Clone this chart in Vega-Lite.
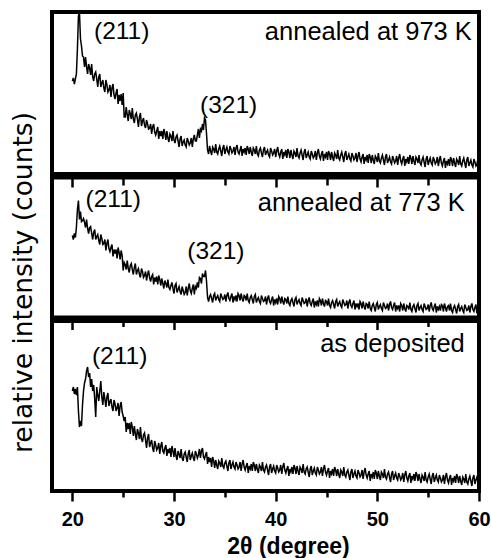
{
"$schema": "https://vega.github.io/schema/vega-lite/v6.json",
"padding": {"left": 7, "top": 10, "right": 0, "bottom": 0},
"autosize": {"type": "pad"},
"bounds": "flush",
"spacing": 3.5,
"config": {
  "font": "Liberation Sans",
  "view": {"stroke": "black", "strokeWidth": 4},
  "axis": {"grid": false, "domain": false, "tickColor": "black", "tickWidth": 2.5, "labelColor": "black", "titleColor": "black"}
},
"datasets": {
"s973": [{"x":20.0,"y":93},{"x":20.1,"y":96},{"x":20.2,"y":90},{"x":20.3,"y":95},{"x":20.4,"y":100},{"x":20.5,"y":125},{"x":20.6,"y":158},{"x":20.7,"y":162},{"x":20.8,"y":135},{"x":20.9,"y":128},{"x":21.0,"y":118},
{"x":21.1,"y":117},{"x":21.2,"y":107},{"x":21.3,"y":117},{"x":21.4,"y":107},{"x":21.5,"y":100},{"x":21.6,"y":110},{"x":21.7,"y":106},{"x":21.8,"y":99},{"x":21.9,"y":110},{"x":22.0,"y":97},
{"x":22.1,"y":93},{"x":22.2,"y":100},{"x":22.3,"y":102},{"x":22.4,"y":95},{"x":22.5,"y":87},{"x":22.6,"y":97},{"x":22.7,"y":100},{"x":22.8,"y":87},{"x":22.9,"y":91},{"x":23.0,"y":94},
{"x":23.1,"y":86},{"x":23.2,"y":82},{"x":23.3,"y":94},{"x":23.4,"y":89},{"x":23.5,"y":82},{"x":23.6,"y":84},{"x":23.7,"y":89},{"x":23.8,"y":77},{"x":23.9,"y":86},{"x":24.0,"y":90},
{"x":24.1,"y":79},{"x":24.2,"y":75},{"x":24.3,"y":81},{"x":24.4,"y":85},{"x":24.5,"y":70},{"x":24.6,"y":79},{"x":24.7,"y":73},{"x":24.8,"y":80},{"x":24.9,"y":69},{"x":25.0,"y":81},
{"x":25.1,"y":57},{"x":25.2,"y":57},{"x":25.3,"y":67},{"x":25.4,"y":59},{"x":25.5,"y":53},{"x":25.6,"y":64},{"x":25.7,"y":60},{"x":25.8,"y":55},{"x":25.9,"y":66},{"x":26.0,"y":55},
{"x":26.1,"y":51},{"x":26.2,"y":59},{"x":26.3,"y":61},{"x":26.4,"y":55},{"x":26.5,"y":47},{"x":26.6,"y":57},{"x":26.7,"y":61},{"x":26.8,"y":48},{"x":26.9,"y":53},{"x":27.0,"y":56},
{"x":27.1,"y":49},{"x":27.2,"y":46},{"x":27.3,"y":54},{"x":27.4,"y":50},{"x":27.5,"y":45},{"x":27.6,"y":46},{"x":27.7,"y":50},{"x":27.8,"y":40},{"x":27.9,"y":47},{"x":28.0,"y":50},
{"x":28.1,"y":42},{"x":28.2,"y":39},{"x":28.3,"y":43},{"x":28.4,"y":47},{"x":28.5,"y":35},{"x":28.6,"y":43},{"x":28.7,"y":38},{"x":28.8,"y":43},{"x":28.9,"y":35},{"x":29.0,"y":45},
{"x":29.1,"y":41},{"x":29.2,"y":34},{"x":29.3,"y":43},{"x":29.4,"y":36},{"x":29.5,"y":32},{"x":29.6,"y":40},{"x":29.7,"y":38},{"x":29.8,"y":33},{"x":29.9,"y":43},{"x":30.0,"y":34},
{"x":30.1,"y":31},{"x":30.2,"y":37},{"x":30.3,"y":39},{"x":30.4,"y":33},{"x":30.5,"y":27},{"x":30.6,"y":35},{"x":30.7,"y":38},{"x":30.8,"y":28},{"x":30.9,"y":32},{"x":31.0,"y":34},
{"x":31.1,"y":29},{"x":31.2,"y":27},{"x":31.3,"y":36},{"x":31.4,"y":33},{"x":31.5,"y":29},{"x":31.6,"y":31},{"x":31.7,"y":36},{"x":31.8,"y":27},{"x":31.9,"y":35},{"x":32.0,"y":39},
{"x":32.1,"y":33},{"x":32.2,"y":33},{"x":32.3,"y":39},{"x":32.4,"y":45},{"x":32.5,"y":36},{"x":32.6,"y":45},{"x":32.7,"y":43},{"x":32.8,"y":50},{"x":32.9,"y":44},{"x":33.0,"y":56},
{"x":33.1,"y":54},{"x":33.2,"y":40},{"x":33.3,"y":24},{"x":33.4,"y":20},{"x":33.5,"y":28},{"x":33.6,"y":23},{"x":33.7,"y":19},{"x":33.8,"y":27},{"x":33.9,"y":25},{"x":34.0,"y":21},
{"x":34.1,"y":30},{"x":34.2,"y":22},{"x":34.3,"y":20},{"x":34.4,"y":25},{"x":34.5,"y":28},{"x":34.6,"y":23},{"x":34.7,"y":18},{"x":34.8,"y":26},{"x":34.9,"y":29},{"x":35.0,"y":20},
{"x":35.1,"y":24},{"x":35.2,"y":27},{"x":35.3,"y":22},{"x":35.4,"y":20},{"x":35.5,"y":28},{"x":35.6,"y":25},{"x":35.7,"y":21},{"x":35.8,"y":23},{"x":35.9,"y":27},{"x":36.0,"y":19},
{"x":36.1,"y":26},{"x":36.2,"y":29},{"x":36.3,"y":22},{"x":36.4,"y":20},{"x":36.5,"y":24},{"x":36.6,"y":28},{"x":36.7,"y":18},{"x":36.8,"y":25},{"x":36.9,"y":22},{"x":37.0,"y":26},
{"x":37.1,"y":19},{"x":37.2,"y":28},{"x":37.3,"y":25},{"x":37.4,"y":20},{"x":37.5,"y":27},{"x":37.6,"y":22},{"x":37.7,"y":18},{"x":37.8,"y":26},{"x":37.9,"y":24},{"x":38.0,"y":20},
{"x":38.1,"y":28},{"x":38.2,"y":20},{"x":38.3,"y":18},{"x":38.4,"y":24},{"x":38.5,"y":26},{"x":38.6,"y":21},{"x":38.7,"y":17},{"x":38.8,"y":24},{"x":38.9,"y":27},{"x":39.0,"y":19},
{"x":39.1,"y":22},{"x":39.2,"y":24},{"x":39.3,"y":19},{"x":39.4,"y":17},{"x":39.5,"y":26},{"x":39.6,"y":23},{"x":39.7,"y":19},{"x":39.8,"y":21},{"x":39.9,"y":25},{"x":40.0,"y":17},
{"x":40.1,"y":23},{"x":40.2,"y":27},{"x":40.3,"y":20},{"x":40.4,"y":17},{"x":40.5,"y":22},{"x":40.6,"y":25},{"x":40.7,"y":15},{"x":40.8,"y":22},{"x":40.9,"y":19},{"x":41.0,"y":24},
{"x":41.1,"y":16},{"x":41.2,"y":25},{"x":41.3,"y":22},{"x":41.4,"y":16},{"x":41.5,"y":24},{"x":41.6,"y":19},{"x":41.7,"y":15},{"x":41.8,"y":23},{"x":41.9,"y":21},{"x":42.0,"y":17},
{"x":42.1,"y":26},{"x":42.2,"y":18},{"x":42.3,"y":16},{"x":42.4,"y":21},{"x":42.5,"y":24},{"x":42.6,"y":19},{"x":42.7,"y":14},{"x":42.8,"y":22},{"x":42.9,"y":25},{"x":43.0,"y":16},
{"x":43.1,"y":19},{"x":43.2,"y":22},{"x":43.3,"y":17},{"x":43.4,"y":15},{"x":43.5,"y":23},{"x":43.6,"y":20},{"x":43.7,"y":16},{"x":43.8,"y":18},{"x":43.9,"y":23},{"x":44.0,"y":14},
{"x":44.1,"y":21},{"x":44.2,"y":25},{"x":44.3,"y":18},{"x":44.4,"y":15},{"x":44.5,"y":20},{"x":44.6,"y":23},{"x":44.7,"y":13},{"x":44.8,"y":20},{"x":44.9,"y":17},{"x":45.0,"y":22},
{"x":45.1,"y":14},{"x":45.2,"y":23},{"x":45.3,"y":20},{"x":45.4,"y":14},{"x":45.5,"y":22},{"x":45.6,"y":17},{"x":45.7,"y":13},{"x":45.8,"y":21},{"x":45.9,"y":19},{"x":46.0,"y":15},
{"x":46.1,"y":24},{"x":46.2,"y":16},{"x":46.3,"y":14},{"x":46.4,"y":19},{"x":46.5,"y":22},{"x":46.6,"y":17},{"x":46.7,"y":12},{"x":46.8,"y":20},{"x":46.9,"y":23},{"x":47.0,"y":14},
{"x":47.1,"y":17},{"x":47.2,"y":20},{"x":47.3,"y":15},{"x":47.4,"y":13},{"x":47.5,"y":21},{"x":47.6,"y":18},{"x":47.7,"y":14},{"x":47.8,"y":16},{"x":47.9,"y":21},{"x":48.0,"y":12},
{"x":48.1,"y":18},{"x":48.2,"y":22},{"x":48.3,"y":15},{"x":48.4,"y":12},{"x":48.5,"y":17},{"x":48.6,"y":20},{"x":48.7,"y":10},{"x":48.8,"y":17},{"x":48.9,"y":14},{"x":49.0,"y":19},
{"x":49.1,"y":11},{"x":49.2,"y":20},{"x":49.3,"y":17},{"x":49.4,"y":11},{"x":49.5,"y":19},{"x":49.6,"y":14},{"x":49.7,"y":10},{"x":49.8,"y":18},{"x":49.9,"y":16},{"x":50.0,"y":12},
{"x":50.1,"y":21},{"x":50.2,"y":13},{"x":50.3,"y":11},{"x":50.4,"y":16},{"x":50.5,"y":19},{"x":50.6,"y":14},{"x":50.7,"y":9},{"x":50.8,"y":17},{"x":50.9,"y":20},{"x":51.0,"y":11},
{"x":51.1,"y":14},{"x":51.2,"y":17},{"x":51.3,"y":12},{"x":51.4,"y":10},{"x":51.5,"y":18},{"x":51.6,"y":15},{"x":51.7,"y":11},{"x":51.8,"y":13},{"x":51.9,"y":18},{"x":52.0,"y":9},
{"x":52.1,"y":16},{"x":52.2,"y":20},{"x":52.3,"y":13},{"x":52.4,"y":10},{"x":52.5,"y":15},{"x":52.6,"y":18},{"x":52.7,"y":8},{"x":52.8,"y":15},{"x":52.9,"y":12},{"x":53.0,"y":17},
{"x":53.1,"y":10},{"x":53.2,"y":19},{"x":53.3,"y":16},{"x":53.4,"y":10},{"x":53.5,"y":18},{"x":53.6,"y":13},{"x":53.7,"y":9},{"x":53.8,"y":17},{"x":53.9,"y":15},{"x":54.0,"y":11},
{"x":54.1,"y":19},{"x":54.2,"y":11},{"x":54.3,"y":9},{"x":54.4,"y":14},{"x":54.5,"y":17},{"x":54.6,"y":12},{"x":54.7,"y":7},{"x":54.8,"y":15},{"x":54.9,"y":18},{"x":55.0,"y":9},
{"x":55.1,"y":13},{"x":55.2,"y":16},{"x":55.3,"y":11},{"x":55.4,"y":9},{"x":55.5,"y":17},{"x":55.6,"y":14},{"x":55.7,"y":10},{"x":55.8,"y":12},{"x":55.9,"y":17},{"x":56.0,"y":8},
{"x":56.1,"y":14},{"x":56.2,"y":18},{"x":56.3,"y":11},{"x":56.4,"y":8},{"x":56.5,"y":13},{"x":56.6,"y":16},{"x":56.7,"y":6},{"x":56.8,"y":13},{"x":56.9,"y":10},{"x":57.0,"y":15},
{"x":57.1,"y":8},{"x":57.2,"y":17},{"x":57.3,"y":14},{"x":57.4,"y":8},{"x":57.5,"y":16},{"x":57.6,"y":11},{"x":57.7,"y":7},{"x":57.8,"y":15},{"x":57.9,"y":13},{"x":58.0,"y":9},
{"x":58.1,"y":18},{"x":58.2,"y":10},{"x":58.3,"y":8},{"x":58.4,"y":13},{"x":58.5,"y":16},{"x":58.6,"y":11},{"x":58.7,"y":6},{"x":58.8,"y":14},{"x":58.9,"y":17},{"x":59.0,"y":8},
{"x":59.1,"y":11},{"x":59.2,"y":14},{"x":59.3,"y":9},{"x":59.4,"y":7},{"x":59.5,"y":15},{"x":59.6,"y":12},{"x":59.7,"y":8},{"x":59.8,"y":10},{"x":59.9,"y":15},{"x":60.0,"y":10}],
"s773": [{"x":20.0,"y":82},{"x":20.1,"y":78},{"x":20.2,"y":84},{"x":20.3,"y":80},{"x":20.4,"y":90},{"x":20.5,"y":108},{"x":20.6,"y":117},{"x":20.7,"y":98},{"x":20.8,"y":106},{"x":20.9,"y":96},{"x":21.0,"y":97},
{"x":21.1,"y":99},{"x":21.2,"y":95},{"x":21.3,"y":90},{"x":21.4,"y":98},{"x":21.5,"y":89},{"x":21.6,"y":84},{"x":21.7,"y":90},{"x":21.8,"y":91},{"x":21.9,"y":84},{"x":22.0,"y":78},
{"x":22.1,"y":85},{"x":22.2,"y":88},{"x":22.3,"y":78},{"x":22.4,"y":81},{"x":22.5,"y":83},{"x":22.6,"y":77},{"x":22.7,"y":73},{"x":22.8,"y":83},{"x":22.9,"y":79},{"x":23.0,"y":73},
{"x":23.1,"y":74},{"x":23.2,"y":78},{"x":23.3,"y":67},{"x":23.4,"y":74},{"x":23.5,"y":78},{"x":23.6,"y":69},{"x":23.7,"y":66},{"x":23.8,"y":70},{"x":23.9,"y":73},{"x":24.0,"y":61},
{"x":24.1,"y":68},{"x":24.2,"y":64},{"x":24.3,"y":68},{"x":24.4,"y":59},{"x":24.5,"y":70},{"x":24.6,"y":65},{"x":24.7,"y":58},{"x":24.8,"y":67},{"x":24.9,"y":62},{"x":25.0,"y":47},
{"x":25.1,"y":55},{"x":25.2,"y":53},{"x":25.3,"y":48},{"x":25.4,"y":57},{"x":25.5,"y":49},{"x":25.6,"y":45},{"x":25.7,"y":52},{"x":25.8,"y":54},{"x":25.9,"y":48},{"x":26.0,"y":43},
{"x":26.1,"y":50},{"x":26.2,"y":54},{"x":26.3,"y":43},{"x":26.4,"y":47},{"x":26.5,"y":49},{"x":26.6,"y":43},{"x":26.7,"y":40},{"x":26.8,"y":49},{"x":26.9,"y":46},{"x":27.0,"y":40},
{"x":27.1,"y":42},{"x":27.2,"y":46},{"x":27.3,"y":37},{"x":27.4,"y":43},{"x":27.5,"y":47},{"x":27.6,"y":40},{"x":27.7,"y":36},{"x":27.8,"y":41},{"x":27.9,"y":43},{"x":28.0,"y":33},
{"x":28.1,"y":40},{"x":28.2,"y":36},{"x":28.3,"y":41},{"x":28.4,"y":33},{"x":28.5,"y":42},{"x":28.6,"y":38},{"x":28.7,"y":32},{"x":28.8,"y":39},{"x":28.9,"y":34},{"x":29.0,"y":29},
{"x":29.1,"y":37},{"x":29.2,"y":34},{"x":29.3,"y":30},{"x":29.4,"y":38},{"x":29.5,"y":30},{"x":29.6,"y":28},{"x":29.7,"y":32},{"x":29.8,"y":35},{"x":29.9,"y":29},{"x":30.0,"y":24},
{"x":30.1,"y":32},{"x":30.2,"y":34},{"x":30.3,"y":25},{"x":30.4,"y":28},{"x":30.5,"y":31},{"x":30.6,"y":26},{"x":30.7,"y":23},{"x":30.8,"y":31},{"x":30.9,"y":27},{"x":31.0,"y":23},
{"x":31.1,"y":25},{"x":31.2,"y":31},{"x":31.3,"y":22},{"x":31.4,"y":29},{"x":31.5,"y":34},{"x":31.6,"y":27},{"x":31.7,"y":24},{"x":31.8,"y":29},{"x":31.9,"y":33},{"x":32.0,"y":23},
{"x":32.1,"y":31},{"x":32.2,"y":29},{"x":32.3,"y":35},{"x":32.4,"y":30},{"x":32.5,"y":40},{"x":32.6,"y":39},{"x":32.7,"y":34},{"x":32.8,"y":44},{"x":32.9,"y":41},{"x":33.0,"y":41},
{"x":33.1,"y":47},{"x":33.2,"y":36},{"x":33.3,"y":20},{"x":33.4,"y":16},{"x":33.5,"y":21},{"x":33.6,"y":23},{"x":33.7,"y":19},{"x":33.8,"y":15},{"x":33.9,"y":22},{"x":34.0,"y":24},
{"x":34.1,"y":17},{"x":34.2,"y":20},{"x":34.3,"y":22},{"x":34.4,"y":18},{"x":34.5,"y":16},{"x":34.6,"y":24},{"x":34.7,"y":21},{"x":34.8,"y":18},{"x":34.9,"y":19},{"x":35.0,"y":23},
{"x":35.1,"y":16},{"x":35.2,"y":22},{"x":35.3,"y":25},{"x":35.4,"y":19},{"x":35.5,"y":17},{"x":35.6,"y":21},{"x":35.7,"y":24},{"x":35.8,"y":15},{"x":35.9,"y":21},{"x":36.0,"y":18},
{"x":36.1,"y":22},{"x":36.2,"y":16},{"x":36.3,"y":24},{"x":36.4,"y":22},{"x":36.5,"y":17},{"x":36.6,"y":24},{"x":36.7,"y":19},{"x":36.8,"y":16},{"x":36.9,"y":22},{"x":37.0,"y":21},
{"x":37.1,"y":17},{"x":37.2,"y":24},{"x":37.3,"y":17},{"x":37.4,"y":15},{"x":37.5,"y":20},{"x":37.6,"y":22},{"x":37.7,"y":18},{"x":37.8,"y":14},{"x":37.9,"y":21},{"x":38.0,"y":23},
{"x":38.1,"y":15},{"x":38.2,"y":18},{"x":38.3,"y":20},{"x":38.4,"y":16},{"x":38.5,"y":14},{"x":38.6,"y":22},{"x":38.7,"y":19},{"x":38.8,"y":16},{"x":38.9,"y":17},{"x":39.0,"y":21},
{"x":39.1,"y":13},{"x":39.2,"y":19},{"x":39.3,"y":22},{"x":39.4,"y":16},{"x":39.5,"y":14},{"x":39.6,"y":18},{"x":39.7,"y":21},{"x":39.8,"y":12},{"x":39.9,"y":18},{"x":40.0,"y":15},
{"x":40.1,"y":19},{"x":40.2,"y":13},{"x":40.3,"y":21},{"x":40.4,"y":19},{"x":40.5,"y":14},{"x":40.6,"y":21},{"x":40.7,"y":16},{"x":40.8,"y":13},{"x":40.9,"y":19},{"x":41.0,"y":18},
{"x":41.1,"y":14},{"x":41.2,"y":21},{"x":41.3,"y":14},{"x":41.4,"y":12},{"x":41.5,"y":17},{"x":41.6,"y":19},{"x":41.7,"y":15},{"x":41.8,"y":11},{"x":41.9,"y":18},{"x":42.0,"y":20},
{"x":42.1,"y":13},{"x":42.2,"y":16},{"x":42.3,"y":18},{"x":42.4,"y":14},{"x":42.5,"y":12},{"x":42.6,"y":20},{"x":42.7,"y":17},{"x":42.8,"y":14},{"x":42.9,"y":15},{"x":43.0,"y":19},
{"x":43.1,"y":11},{"x":43.2,"y":17},{"x":43.3,"y":20},{"x":43.4,"y":14},{"x":43.5,"y":12},{"x":43.6,"y":16},{"x":43.7,"y":19},{"x":43.8,"y":10},{"x":43.9,"y":16},{"x":44.0,"y":13},
{"x":44.1,"y":17},{"x":44.2,"y":11},{"x":44.3,"y":19},{"x":44.4,"y":17},{"x":44.5,"y":12},{"x":44.6,"y":19},{"x":44.7,"y":14},{"x":44.8,"y":11},{"x":44.9,"y":17},{"x":45.0,"y":16},
{"x":45.1,"y":12},{"x":45.2,"y":19},{"x":45.3,"y":12},{"x":45.4,"y":10},{"x":45.5,"y":15},{"x":45.6,"y":17},{"x":45.7,"y":13},{"x":45.8,"y":9},{"x":45.9,"y":16},{"x":46.0,"y":18},
{"x":46.1,"y":11},{"x":46.2,"y":14},{"x":46.3,"y":16},{"x":46.4,"y":12},{"x":46.5,"y":10},{"x":46.6,"y":18},{"x":46.7,"y":15},{"x":46.8,"y":12},{"x":46.9,"y":13},{"x":47.0,"y":17},
{"x":47.1,"y":9},{"x":47.2,"y":15},{"x":47.3,"y":18},{"x":47.4,"y":12},{"x":47.5,"y":10},{"x":47.6,"y":14},{"x":47.7,"y":17},{"x":47.8,"y":8},{"x":47.9,"y":14},{"x":48.0,"y":11},
{"x":48.1,"y":14},{"x":48.2,"y":8},{"x":48.3,"y":16},{"x":48.4,"y":14},{"x":48.5,"y":9},{"x":48.6,"y":16},{"x":48.7,"y":11},{"x":48.8,"y":8},{"x":48.9,"y":14},{"x":49.0,"y":13},
{"x":49.1,"y":9},{"x":49.2,"y":16},{"x":49.3,"y":9},{"x":49.4,"y":7},{"x":49.5,"y":12},{"x":49.6,"y":14},{"x":49.7,"y":10},{"x":49.8,"y":6},{"x":49.9,"y":13},{"x":50.0,"y":15},
{"x":50.1,"y":8},{"x":50.2,"y":11},{"x":50.3,"y":13},{"x":50.4,"y":9},{"x":50.5,"y":7},{"x":50.6,"y":15},{"x":50.7,"y":12},{"x":50.8,"y":9},{"x":50.9,"y":10},{"x":51.0,"y":14},
{"x":51.1,"y":7},{"x":51.2,"y":13},{"x":51.3,"y":16},{"x":51.4,"y":10},{"x":51.5,"y":8},{"x":51.6,"y":12},{"x":51.7,"y":15},{"x":51.8,"y":6},{"x":51.9,"y":12},{"x":52.0,"y":9},
{"x":52.1,"y":12},{"x":52.2,"y":6},{"x":52.3,"y":14},{"x":52.4,"y":12},{"x":52.5,"y":7},{"x":52.6,"y":14},{"x":52.7,"y":9},{"x":52.8,"y":6},{"x":52.9,"y":12},{"x":53.0,"y":11},
{"x":53.1,"y":8},{"x":53.2,"y":15},{"x":53.3,"y":8},{"x":53.4,"y":6},{"x":53.5,"y":11},{"x":53.6,"y":13},{"x":53.7,"y":9},{"x":53.8,"y":5},{"x":53.9,"y":12},{"x":54.0,"y":14},
{"x":54.1,"y":7},{"x":54.2,"y":10},{"x":54.3,"y":12},{"x":54.4,"y":8},{"x":54.5,"y":6},{"x":54.6,"y":14},{"x":54.7,"y":11},{"x":54.8,"y":8},{"x":54.9,"y":9},{"x":55.0,"y":13},
{"x":55.1,"y":6},{"x":55.2,"y":12},{"x":55.3,"y":15},{"x":55.4,"y":9},{"x":55.5,"y":7},{"x":55.6,"y":11},{"x":55.7,"y":14},{"x":55.8,"y":5},{"x":55.9,"y":11},{"x":56.0,"y":8},
{"x":56.1,"y":11},{"x":56.2,"y":7},{"x":56.3,"y":13},{"x":56.4,"y":12},{"x":56.5,"y":6},{"x":56.6,"y":14},{"x":56.7,"y":10},{"x":56.8,"y":6},{"x":56.9,"y":11},{"x":57.0,"y":12},
{"x":57.1,"y":7},{"x":57.2,"y":14},{"x":57.3,"y":7},{"x":57.4,"y":5},{"x":57.5,"y":10},{"x":57.6,"y":12},{"x":57.7,"y":8},{"x":57.8,"y":4},{"x":57.9,"y":11},{"x":58.0,"y":13},
{"x":58.1,"y":6},{"x":58.2,"y":9},{"x":58.3,"y":11},{"x":58.4,"y":7},{"x":58.5,"y":5},{"x":58.6,"y":13},{"x":58.7,"y":10},{"x":58.8,"y":7},{"x":58.9,"y":8},{"x":59.0,"y":12},
{"x":59.1,"y":5},{"x":59.2,"y":11},{"x":59.3,"y":14},{"x":59.4,"y":8},{"x":59.5,"y":6},{"x":59.6,"y":10},{"x":59.7,"y":13},{"x":59.8,"y":4},{"x":59.9,"y":10},{"x":60.0,"y":9}],
"dep": [{"x":20.0,"y":100},{"x":20.1,"y":104},{"x":20.2,"y":97},{"x":20.3,"y":102},{"x":20.4,"y":96},{"x":20.5,"y":104},{"x":20.6,"y":80},{"x":20.7,"y":64},{"x":20.8,"y":70},{"x":20.9,"y":65},{"x":21.0,"y":86},
{"x":21.1,"y":100},{"x":21.2,"y":108},{"x":21.3,"y":112},{"x":21.4,"y":120},{"x":21.5,"y":124},{"x":21.6,"y":114},{"x":21.7,"y":118},{"x":21.8,"y":104},{"x":21.9,"y":112},{"x":22.0,"y":100},
{"x":22.1,"y":106},{"x":22.2,"y":92},{"x":22.3,"y":74},{"x":22.4,"y":104},{"x":22.5,"y":96},{"x":22.6,"y":90},{"x":22.7,"y":100},{"x":22.8,"y":110},{"x":22.9,"y":94},{"x":23.0,"y":86},
{"x":23.1,"y":99},{"x":23.2,"y":92},{"x":23.3,"y":84},{"x":23.4,"y":94},{"x":23.5,"y":98},{"x":23.6,"y":85},{"x":23.7,"y":89},{"x":23.8,"y":92},{"x":23.9,"y":84},{"x":24.0,"y":80},
{"x":24.1,"y":91},{"x":24.2,"y":87},{"x":24.3,"y":80},{"x":24.4,"y":83},{"x":24.5,"y":88},{"x":24.6,"y":75},{"x":24.7,"y":85},{"x":24.8,"y":89},{"x":24.9,"y":79},{"x":25.0,"y":75},
{"x":25.1,"y":70},{"x":25.2,"y":74},{"x":25.3,"y":59},{"x":25.4,"y":68},{"x":25.5,"y":62},{"x":25.6,"y":68},{"x":25.7,"y":57},{"x":25.8,"y":69},{"x":25.9,"y":64},{"x":26.0,"y":55},
{"x":26.1,"y":65},{"x":26.2,"y":57},{"x":26.3,"y":51},{"x":26.4,"y":62},{"x":26.5,"y":58},{"x":26.6,"y":52},{"x":26.7,"y":64},{"x":26.8,"y":52},{"x":26.9,"y":49},{"x":27.0,"y":56},
{"x":27.1,"y":58},{"x":27.2,"y":51},{"x":27.3,"y":43},{"x":27.4,"y":53},{"x":27.5,"y":57},{"x":27.6,"y":44},{"x":27.7,"y":48},{"x":27.8,"y":51},{"x":27.9,"y":43},{"x":28.0,"y":39},
{"x":28.1,"y":50},{"x":28.2,"y":46},{"x":28.3,"y":41},{"x":28.4,"y":43},{"x":28.5,"y":48},{"x":28.6,"y":37},{"x":28.7,"y":45},{"x":28.8,"y":49},{"x":28.9,"y":40},{"x":29.0,"y":38},
{"x":29.1,"y":43},{"x":29.2,"y":46},{"x":29.3,"y":35},{"x":29.4,"y":42},{"x":29.5,"y":38},{"x":29.6,"y":43},{"x":29.7,"y":34},{"x":29.8,"y":45},{"x":29.9,"y":40},{"x":30.0,"y":34},
{"x":30.1,"y":43},{"x":30.2,"y":35},{"x":30.3,"y":31},{"x":30.4,"y":40},{"x":30.5,"y":37},{"x":30.6,"y":33},{"x":30.7,"y":42},{"x":30.8,"y":33},{"x":30.9,"y":30},{"x":31.0,"y":37},
{"x":31.1,"y":39},{"x":31.2,"y":34},{"x":31.3,"y":29},{"x":31.4,"y":37},{"x":31.5,"y":41},{"x":31.6,"y":31},{"x":31.7,"y":35},{"x":31.8,"y":38},{"x":31.9,"y":33},{"x":32.0,"y":30},
{"x":32.1,"y":40},{"x":32.2,"y":37},{"x":32.3,"y":33},{"x":32.4,"y":36},{"x":32.5,"y":42},{"x":32.6,"y":33},{"x":32.7,"y":40},{"x":32.8,"y":43},{"x":32.9,"y":34},{"x":33.0,"y":32},
{"x":33.1,"y":36},{"x":33.2,"y":39},{"x":33.3,"y":27},{"x":33.4,"y":34},{"x":33.5,"y":29},{"x":33.6,"y":33},{"x":33.7,"y":24},{"x":33.8,"y":34},{"x":33.9,"y":30},{"x":34.0,"y":23},
{"x":34.1,"y":31},{"x":34.2,"y":26},{"x":34.3,"y":22},{"x":34.4,"y":30},{"x":34.5,"y":28},{"x":34.6,"y":24},{"x":34.7,"y":33},{"x":34.8,"y":25},{"x":34.9,"y":23},{"x":35.0,"y":28},
{"x":35.1,"y":30},{"x":35.2,"y":25},{"x":35.3,"y":20},{"x":35.4,"y":28},{"x":35.5,"y":31},{"x":35.6,"y":22},{"x":35.7,"y":26},{"x":35.8,"y":29},{"x":35.9,"y":24},{"x":36.0,"y":22},
{"x":36.1,"y":29},{"x":36.2,"y":26},{"x":36.3,"y":22},{"x":36.4,"y":24},{"x":36.5,"y":29},{"x":36.6,"y":20},{"x":36.7,"y":27},{"x":36.8,"y":31},{"x":36.9,"y":24},{"x":37.0,"y":21},
{"x":37.1,"y":25},{"x":37.2,"y":28},{"x":37.3,"y":18},{"x":37.4,"y":25},{"x":37.5,"y":22},{"x":37.6,"y":27},{"x":37.7,"y":20},{"x":37.8,"y":29},{"x":37.9,"y":26},{"x":38.0,"y":20},
{"x":38.1,"y":27},{"x":38.2,"y":22},{"x":38.3,"y":18},{"x":38.4,"y":26},{"x":38.5,"y":24},{"x":38.6,"y":20},{"x":38.7,"y":29},{"x":38.8,"y":21},{"x":38.9,"y":19},{"x":39.0,"y":24},
{"x":39.1,"y":26},{"x":39.2,"y":21},{"x":39.3,"y":16},{"x":39.4,"y":24},{"x":39.5,"y":27},{"x":39.6,"y":18},{"x":39.7,"y":22},{"x":39.8,"y":25},{"x":39.9,"y":20},{"x":40.0,"y":18},
{"x":40.1,"y":26},{"x":40.2,"y":23},{"x":40.3,"y":19},{"x":40.4,"y":21},{"x":40.5,"y":26},{"x":40.6,"y":17},{"x":40.7,"y":24},{"x":40.8,"y":28},{"x":40.9,"y":21},{"x":41.0,"y":18},
{"x":41.1,"y":22},{"x":41.2,"y":25},{"x":41.3,"y":15},{"x":41.4,"y":22},{"x":41.5,"y":19},{"x":41.6,"y":24},{"x":41.7,"y":17},{"x":41.8,"y":26},{"x":41.9,"y":23},{"x":42.0,"y":17},
{"x":42.1,"y":25},{"x":42.2,"y":20},{"x":42.3,"y":16},{"x":42.4,"y":24},{"x":42.5,"y":22},{"x":42.6,"y":18},{"x":42.7,"y":27},{"x":42.8,"y":19},{"x":42.9,"y":17},{"x":43.0,"y":22},
{"x":43.1,"y":24},{"x":43.2,"y":19},{"x":43.3,"y":14},{"x":43.4,"y":22},{"x":43.5,"y":25},{"x":43.6,"y":16},{"x":43.7,"y":20},{"x":43.8,"y":23},{"x":43.9,"y":18},{"x":44.0,"y":16},
{"x":44.1,"y":24},{"x":44.2,"y":21},{"x":44.3,"y":17},{"x":44.4,"y":19},{"x":44.5,"y":24},{"x":44.6,"y":15},{"x":44.7,"y":22},{"x":44.8,"y":26},{"x":44.9,"y":19},{"x":45.0,"y":16},
{"x":45.1,"y":20},{"x":45.2,"y":23},{"x":45.3,"y":13},{"x":45.4,"y":20},{"x":45.5,"y":17},{"x":45.6,"y":22},{"x":45.7,"y":15},{"x":45.8,"y":24},{"x":45.9,"y":21},{"x":46.0,"y":15},
{"x":46.1,"y":22},{"x":46.2,"y":17},{"x":46.3,"y":13},{"x":46.4,"y":21},{"x":46.5,"y":19},{"x":46.6,"y":15},{"x":46.7,"y":24},{"x":46.8,"y":16},{"x":46.9,"y":14},{"x":47.0,"y":19},
{"x":47.1,"y":21},{"x":47.2,"y":16},{"x":47.3,"y":11},{"x":47.4,"y":19},{"x":47.5,"y":22},{"x":47.6,"y":13},{"x":47.7,"y":17},{"x":47.8,"y":20},{"x":47.9,"y":15},{"x":48.0,"y":13},
{"x":48.1,"y":21},{"x":48.2,"y":18},{"x":48.3,"y":14},{"x":48.4,"y":16},{"x":48.5,"y":21},{"x":48.6,"y":12},{"x":48.7,"y":19},{"x":48.8,"y":23},{"x":48.9,"y":16},{"x":49.0,"y":13},
{"x":49.1,"y":17},{"x":49.2,"y":20},{"x":49.3,"y":10},{"x":49.4,"y":17},{"x":49.5,"y":14},{"x":49.6,"y":19},{"x":49.7,"y":12},{"x":49.8,"y":21},{"x":49.9,"y":18},{"x":50.0,"y":12},
{"x":50.1,"y":20},{"x":50.2,"y":15},{"x":50.3,"y":11},{"x":50.4,"y":19},{"x":50.5,"y":17},{"x":50.6,"y":13},{"x":50.7,"y":22},{"x":50.8,"y":14},{"x":50.9,"y":12},{"x":51.0,"y":17},
{"x":51.1,"y":19},{"x":51.2,"y":14},{"x":51.3,"y":9},{"x":51.4,"y":17},{"x":51.5,"y":20},{"x":51.6,"y":11},{"x":51.7,"y":15},{"x":51.8,"y":18},{"x":51.9,"y":13},{"x":52.0,"y":11},
{"x":52.1,"y":18},{"x":52.2,"y":15},{"x":52.3,"y":11},{"x":52.4,"y":13},{"x":52.5,"y":18},{"x":52.6,"y":9},{"x":52.7,"y":16},{"x":52.8,"y":20},{"x":52.9,"y":13},{"x":53.0,"y":10},
{"x":53.1,"y":15},{"x":53.2,"y":18},{"x":53.3,"y":8},{"x":53.4,"y":15},{"x":53.5,"y":12},{"x":53.6,"y":17},{"x":53.7,"y":10},{"x":53.8,"y":19},{"x":53.9,"y":16},{"x":54.0,"y":10},
{"x":54.1,"y":17},{"x":54.2,"y":12},{"x":54.3,"y":8},{"x":54.4,"y":16},{"x":54.5,"y":14},{"x":54.6,"y":10},{"x":54.7,"y":19},{"x":54.8,"y":11},{"x":54.9,"y":9},{"x":55.0,"y":14},
{"x":55.1,"y":17},{"x":55.2,"y":12},{"x":55.3,"y":7},{"x":55.4,"y":15},{"x":55.5,"y":18},{"x":55.6,"y":9},{"x":55.7,"y":13},{"x":55.8,"y":16},{"x":55.9,"y":11},{"x":56.0,"y":9},
{"x":56.1,"y":16},{"x":56.2,"y":13},{"x":56.3,"y":9},{"x":56.4,"y":11},{"x":56.5,"y":16},{"x":56.6,"y":7},{"x":56.7,"y":14},{"x":56.8,"y":18},{"x":56.9,"y":11},{"x":57.0,"y":8},
{"x":57.1,"y":13},{"x":57.2,"y":16},{"x":57.3,"y":6},{"x":57.4,"y":13},{"x":57.5,"y":10},{"x":57.6,"y":15},{"x":57.7,"y":8},{"x":57.8,"y":17},{"x":57.9,"y":14},{"x":58.0,"y":8},
{"x":58.1,"y":15},{"x":58.2,"y":10},{"x":58.3,"y":6},{"x":58.4,"y":14},{"x":58.5,"y":12},{"x":58.6,"y":8},{"x":58.7,"y":17},{"x":58.8,"y":9},{"x":58.9,"y":7},{"x":59.0,"y":12},
{"x":59.1,"y":15},{"x":59.2,"y":10},{"x":59.3,"y":5},{"x":59.4,"y":13},{"x":59.5,"y":16},{"x":59.6,"y":7},{"x":59.7,"y":11},{"x":59.8,"y":14},{"x":59.9,"y":9},{"x":60.0,"y":8}],
"notes": [
 {"p":"973","k":"peak","x":22.13,"y":142,"t":"(211)"},
 {"p":"973","k":"peak","x":32.56,"y":68,"t":"(321)"},
 {"p":"973","k":"cond","x":59.3,"y":142.5,"t":"annealed at 973 K"},
 {"p":"773","k":"peak","x":21.3,"y":118,"t":"(211)"},
 {"p":"773","k":"peak","x":31.3,"y":66,"t":"(321)"},
 {"p":"773","k":"cond","x":58.6,"y":115,"t":"annealed at 773 K"},
 {"p":"dep","k":"peak","x":21.93,"y":134,"t":"(211)"},
 {"p":"dep","k":"cond","x":58.6,"y":147.5,"t":"as deposited"}
]
},
"vconcat": [
 {
  "width": 427, "height": 162,
  "view": {"stroke": "black", "strokeWidth": 4},
  "layer": [
   {"data": {"name": "s973"},
    "mark": {"type": "line", "color": "black", "strokeWidth": 1.5, "clip": true},
    "encoding": {
     "x": {"field": "x", "type": "quantitative", "scale": {"domain": [18, 60], "nice": false, "zero": false},
           "axis": {"orient": "bottom", "values": [20, 30, 40, 50, 60], "tickSize": 13, "labels": false, "title": null}},
     "y": {"field": "y", "type": "quantitative", "scale": {"domain": [0, 162], "nice": false}, "axis": null}
    }},
   {"data": {"name": "notes"},
    "transform": [{"filter": "datum.p == '973' && datum.k == 'peak'"}],
    "mark": {"type": "text", "align": "left", "baseline": "middle", "fontSize": 24.5, "color": "black"},
    "encoding": {
     "x": {"field": "x", "type": "quantitative", "axis": {"orient": "bottom", "values": [25, 35, 45, 55], "tickSize": 11, "labels": false, "title": null}},
     "y": {"field": "y", "type": "quantitative", "axis": null},
     "text": {"field": "t"}
    }},
   {"data": {"name": "notes"},
    "transform": [{"filter": "datum.p == '973' && datum.k == 'cond'"}],
    "mark": {"type": "text", "align": "right", "baseline": "middle", "fontSize": 25.5, "color": "black"},
    "encoding": {
     "x": {"field": "x", "type": "quantitative", "axis": null},
     "y": {"field": "y", "type": "quantitative", "axis": null},
     "text": {"field": "t"}
    }}
  ],
  "resolve": {"axis": {"x": "independent"}}
 },
 {
  "width": 427, "height": 140,
  "view": {"stroke": "black", "strokeWidth": 4},
  "layer": [
   {"data": {"name": "s773"},
    "mark": {"type": "line", "color": "black", "strokeWidth": 1.5, "clip": true},
    "encoding": {
     "x": {"field": "x", "type": "quantitative", "scale": {"domain": [18, 60], "nice": false, "zero": false},
           "axis": {"orient": "bottom", "values": [20, 30, 40, 50, 60], "tickSize": 12, "labels": false, "title": null}},
     "y": {"field": "y", "type": "quantitative", "scale": {"domain": [0, 140], "nice": false},
           "axis": {"title": "relative intensity (counts)", "labels": false, "ticks": false, "domain": false,
                    "titleFont": "DejaVu Sans", "titleFontSize": 26.5, "titleFontWeight": "normal", "titleX": -21, "titleY": 104.5,
                    "titleBaseline": "alphabetic", "titleAlign": "center"}}
    }},
   {"data": {"name": "notes"},
    "transform": [{"filter": "datum.p == '773' && datum.k == 'peak'"}],
    "mark": {"type": "text", "align": "left", "baseline": "middle", "fontSize": 24.5, "color": "black"},
    "encoding": {
     "x": {"field": "x", "type": "quantitative", "axis": {"orient": "bottom", "values": [25, 35, 45, 55], "tickSize": 9, "labels": false, "title": null}},
     "y": {"field": "y", "type": "quantitative"},
     "text": {"field": "t"}
    }},
   {"data": {"name": "notes"},
    "transform": [{"filter": "datum.p == '773' && datum.k == 'cond'"}],
    "mark": {"type": "text", "align": "right", "baseline": "middle", "fontSize": 25.5, "color": "black"},
    "encoding": {
     "x": {"field": "x", "type": "quantitative", "axis": null},
     "y": {"field": "y", "type": "quantitative"},
     "text": {"field": "t"}
    }}
  ],
  "resolve": {"axis": {"x": "independent"}}
 },
 {
  "width": 427, "height": 170,
  "view": {"stroke": "black", "strokeWidth": 4},
  "layer": [
   {"data": {"name": "dep"},
    "mark": {"type": "line", "color": "black", "strokeWidth": 1.5, "clip": true},
    "encoding": {
     "x": {"field": "x", "type": "quantitative", "scale": {"domain": [18, 60], "nice": false, "zero": false},
           "axis": {"orient": "bottom", "values": [20, 30, 40, 50, 60], "tickSize": 10, "labels": true, "labelFlush": false,
                    "labelFontSize": 20, "labelFontWeight": "bold", "labelBaseline": "alphabetic", "labelPadding": 24,
                    "title": "2θ (degree)", "titleFontSize": 23, "titleFontWeight": "bold", "titleX": 236, "titleY": 62,
                    "titleBaseline": "alphabetic", "titleAlign": "center"}},
     "y": {"field": "y", "type": "quantitative", "scale": {"domain": [0, 170], "nice": false}, "axis": null}
    }},
   {"data": {"name": "notes"},
    "transform": [{"filter": "datum.p == 'dep' && datum.k == 'peak'"}],
    "mark": {"type": "text", "align": "left", "baseline": "middle", "fontSize": 24.5, "color": "black"},
    "encoding": {
     "x": {"field": "x", "type": "quantitative", "axis": {"orient": "bottom", "values": [25, 35, 45, 55], "tickSize": 6, "labels": false, "title": null}},
     "y": {"field": "y", "type": "quantitative", "axis": null},
     "text": {"field": "t"}
    }},
   {"data": {"name": "notes"},
    "transform": [{"filter": "datum.p == 'dep' && datum.k == 'cond'"}],
    "mark": {"type": "text", "align": "right", "baseline": "middle", "fontSize": 25.5, "color": "black"},
    "encoding": {
     "x": {"field": "x", "type": "quantitative", "axis": null},
     "y": {"field": "y", "type": "quantitative", "axis": null},
     "text": {"field": "t"}
    }}
  ],
  "resolve": {"axis": {"x": "independent"}}
 }
]
}
